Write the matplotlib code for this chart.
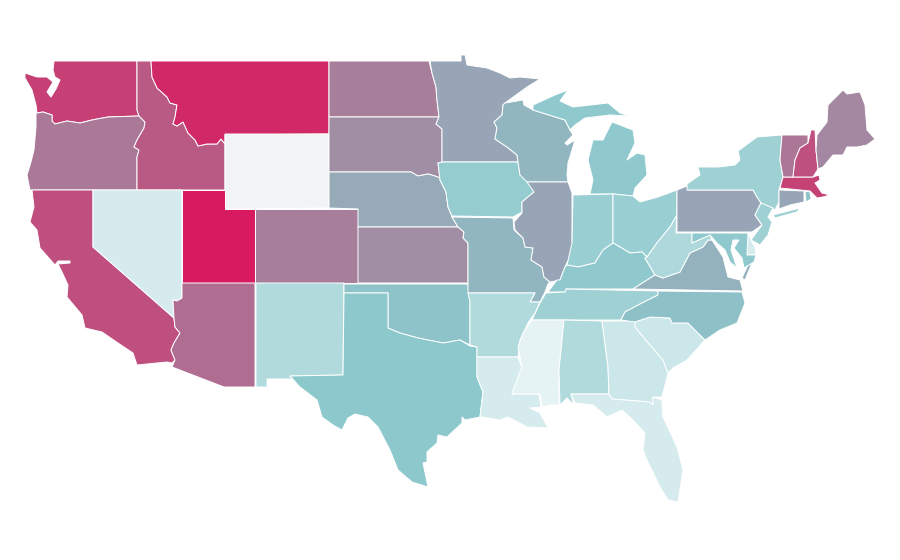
import numpy as np
import matplotlib
matplotlib.use("Agg")
import matplotlib.pyplot as plt
from matplotlib.collections import PolyCollection
from matplotlib.colors import LinearSegmentedColormap, Normalize

# Estimated value of each state on the colour scale (nan = no data)
states = ["WA","OR","CA","ID","NV","MT","WY","UT","AZ","CO","NM","ND","SD","NE","KS","OK","TX",
          "MN","IA","MO","AR","LA","WI","IL","MI","IN","OH","KY","TN","MS","AL","GA","FL","SC",
          "NC","VA","WV","PA","NY","NJ","DE","MD","CT","RI","MA","VT","NH","ME"]
values = [87,67,82,78,6,95,np.nan,100,71,65,18,65,59,48,59,33,30,
          50,27,41,18,6,41,50,29,26,26,29,24,1,18,9,6,9,
          34,43,19,50,24,24,6,29,50,33,86,68,81,62]

# State outlines in image units
outlines = {
"WA":[[(54,61),(137,61),(137,110),(139,116),(108,117),(92,120),(80,123),(67,121),(55,124),(52,121),(52,115),(43,112),(37,113),(36,105),(32,90),(25,78),(25,73),(37,77),(47,77),(53,82),(47,92),(51,97),(56,89),(60,80),(55,77),(53,70)]],
"OR":[[(36,113),(37,113),(43,112),(52,115),(52,121),(55,124),(67,121),(80,123),(92,120),(108,117),(139,116),(145,122),(144,128),(137,140),(134,147),(139,150),(137,157),(137,190),(30,190),(27,175),(31,162),(34,150),(36,127)]],
"CA":[[(32,190),(93,190),(93,247),(174,318),(175,327),(180,333),(174,343),(171,350),(175,360),(172,363),(167,362),(137,365),(133,353),(118,343),(102,332),(85,328),(82,315),(67,297),(68,285),(62,272),(58,264),(70,263),(70,261),(58,261),(55,265),(40,248),(37,230),(30,222),(34,207)]],
"ID":[[(137,61),(151,61),(152,77),(157,88),(167,97),(170,103),(177,105),(175,117),(173,124),(177,126),(183,122),(188,133),(195,140),(198,146),(207,144),(217,144),(221,139),(225,144),(225,190),(137,190),(137,157),(139,150),(134,147),(137,140),(144,128),(145,122),(139,116),(137,110)]],
"NV":[[(93,190),(182,190),(182,298),(177,301),(173,300),(174,318),(93,247)]],
"MT":[[(151,61),(329,61),(329,134),(225,135),(225,144),(221,139),(217,144),(207,144),(198,146),(195,140),(188,133),(183,122),(177,126),(173,124),(175,117),(177,105),(170,103),(167,97),(157,88),(152,77)]],
"WY":[[(225,134),(329,134),(329,208),(225,209)]],
"UT":[[(182,190),(225,190),(225,209),(255,209),(255,283),(182,283)]],
"AZ":[[(182,283),(255,283),(255,387),(224,387),(172,367),(175,360),(171,350),(174,343),(180,333),(175,327),(174,318),(173,300),(177,301),(182,298)]],
"CO":[[(255,209),(358,209),(358,283),(255,283)]],
"NM":[[(256,283),(344,283),(343,375),(290,376),(293,379),(267,379),(267,387),(256,387)]],
"ND":[[(329,61),(429,61),(432,73),(436,87),(437,100),(439,117),(329,117)]],
"SD":[[(329,117),(439,117),(436,124),(442,129),(442,162),(438,163),(440,178),(435,176),(428,174),(418,176),(411,172),(329,172)]],
"NE":[[(329,172),(411,172),(418,176),(428,174),(435,176),(440,178),(440,180),(446,192),(448,207),(452,217),(458,227),(358,227),(358,209),(329,208)]],
"KS":[[(358,227),(458,227),(464,232),(463,238),(468,243),(468,283),(358,283)]],
"OK":[[(344,284),(468,284),(470,302),(470,345),(460,340),(443,343),(418,338),(400,333),(388,328),(388,293),(344,293)]],
"TX":[[(344,293),(388,293),(388,328),(400,333),(418,338),(443,343),(460,340),(470,346),(477,347),(477,377),(483,392),(480,417),(465,420),(462,417),(462,423),(447,437),(438,435),(437,443),(427,452),(427,462),(423,463),(428,487),(412,482),(398,470),(390,450),(378,427),(368,417),(355,414),(348,418),(342,430),(333,425),(322,417),(317,400),(300,387),(290,376),(343,375)]],
"MN":[[(430,61),(461,61),(461,55),(465,55),(467,65),(487,68),(500,73),(510,78),(520,77),(540,79),(527,87),(505,103),(503,105),(502,115),(494,122),(497,128),(495,139),(507,147),(517,155),(518,162),(442,162),(442,129),(436,124),(439,117),(437,100),(436,87),(432,73)]],
"IA":[[(442,162),(518,162),(520,175),(527,178),(534,192),(522,202),(522,212),(513,217),(452,216),(448,207),(446,192),(440,180),(438,163)]],
"MO":[[(452,217),(513,218),(514,230),(523,238),(525,247),(533,248),(531,260),(542,267),(544,277),(550,282),(548,284),(545,292),(540,302),(530,302),(535,293),(468,293),(468,243),(463,238),(464,232),(458,227)]],
"AR":[[(468,293),(535,293),(530,302),(540,302),(535,313),(528,323),(520,340),(518,357),(477,357),(477,347),(470,345),(470,302)]],
"LA":[[(477,357),(518,357),(522,368),(512,394),(539,394),(541,407),(530,408),(540,413),(548,428),(527,427),(508,417),(500,420),(482,417),(480,417),(483,392),(477,377)]],
"WI":[[(505,103),(523,100),(524,105),(533,110),(565,120),(570,130),(573,135),(565,143),(567,145),(575,140),(572,150),(568,163),(567,175),(568,182),(527,182),(520,175),(518,162),(517,155),(507,147),(495,139),(497,128),(494,122),(502,115),(503,105)]],
"IL":[[(527,182),(568,182),(572,193),(572,240),(573,250),(565,267),(560,280),(550,282),(544,277),(542,267),(531,260),(533,248),(525,247),(523,238),(515,230),(514,222),(522,213),(522,202),(534,192)]],
"MI":[[(590,194),(613,194),(633,196),(635,188),(647,175),(645,155),(637,153),(627,160),(635,143),(633,130),(612,122),(603,140),(593,140),(588,160),(593,180)],
      [(533,105),(555,95),(568,90),(560,101),(573,107),(608,103),(620,113),(630,116),(610,115),(585,118),(575,125),(570,130),(565,120),(533,110)]],
"IN":[[(573,195),(613,194),(613,243),(603,250),(595,263),(578,267),(567,265),(572,243)]],
"OH":[[(613,194),(633,196),(640,202),(658,197),(677,190),(677,215),(670,227),(657,243),(647,257),(642,252),(630,253),(615,244),(613,243)]],
"KY":[[(567,265),(578,267),(595,263),(603,250),(613,243),(615,244),(630,253),(642,252),(647,257),(645,258),(655,275),(633,289),(566,289),(565,292),(548,292),(557,280),(560,280),(565,267)]],
"TN":[[(532,320),(540,303),(546,293),(565,292),(566,289),(658,291),(658,295),(642,303),(625,312),(621,320)]],
"MS":[[(532,320),(564,320),(559,370),(559,405),(550,405),(542,407),(540,394),(512,394),(518,377),(522,367),(518,347),(523,333)]],
"AL":[[(564,320),(602,321),(608,367),(609,394),(571,394),(574,405),(567,398),(560,405),(559,370)]],
"GA":[[(602,321),(635,321),(635,327),(650,345),(663,360),(668,373),(662,397),(653,397),(653,405),(650,402),(612,399),(609,394),(608,367)]],
"FL":[[(571,394),(609,394),(612,399),(650,402),(653,405),(653,397),(662,400),(663,417),(677,447),(683,470),(678,502),(668,500),(660,487),(647,460),(643,450),(645,433),(633,420),(622,410),(607,417),(593,405),(575,403)]],
"SC":[[(635,322),(650,317),(670,318),(672,323),(688,323),(705,340),(687,360),(673,368),(668,373),(663,360),(650,345),(635,327)]],
"NC":[[(658,291),(742,292),(745,303),(737,323),(720,330),(705,340),(688,323),(672,323),(670,318),(650,317),(635,322),(621,320),(625,312),(642,303),(658,295)]],
"VA":[[(633,289),(743,291),(740,280),(728,277),(723,257),(712,240),(708,240),(703,247),(690,253),(680,272),(663,278),(655,275)],
      [(748,265),(752,263),(745,280),(742,278)]],
"WV":[[(677,215),(676,233),(692,233),(692,243),(710,235),(712,240),(708,240),(703,247),(690,253),(680,272),(663,278),(655,275),(645,258),(647,257),(657,243),(670,227)]],
"PA":[[(677,190),(687,186),(688,190),(753,190),(757,197),(761,203),(755,215),(762,225),(752,232),(677,232)]],
"NY":[[(687,190),(687,184),(700,175),(698,167),(718,167),(735,165),(740,160),(738,151),(757,137),(782,135),(780,160),(783,177),(779,190),(779,202),(775,210),(772,208),(761,203),(757,197),(753,190)],
      [(773,215),(800,208),(797,212),(775,218)]],
"NJ":[[(761,203),(773,208),(768,217),(772,222),(768,235),(760,245),(751,240),(762,225),(755,215)]],
"DE":[[(748,232),(747,255),(756,255),(755,247),(751,240)]],
"MD":[[(692,233),(748,233),(747,255),(756,255),(754,262),(744,268),(742,258),(734,248),(739,240),(733,240),(731,250),(737,268),(730,262),(725,250),(717,243),(710,235),(692,243)]],
"CT":[[(779,190),(804,191),(804,202),(790,205),(779,209)]],
"RI":[[(805,191),(810,192),(811,199),(806,202)]],
"MA":[[(780,188),(783,177),(813,177),(819,175),(820,180),(815,183),(822,193),(830,195),(823,197),(817,198),(812,193),(810,191)]],
"VT":[[(782,135),(808,135),(808,143),(800,148),(795,160),(793,177),(783,177),(780,160)]],
"NH":[[(811,130),(815,130),(816,150),(818,169),(813,177),(793,177),(795,160),(800,148),(808,143)]],
"ME":[[(817,135),(827,122),(828,105),(843,90),(847,94),(860,92),(865,105),(867,130),(875,139),(867,145),(857,147),(847,147),(843,155),(833,155),(823,167),(818,169),(816,150)]],
}

scale_stops = [(0.0,"#e8f4f5"),(0.30,"#8cc8cc"),(0.50,"#97a6b6"),(0.65,"#a77f9b"),(1.0,"#d81b60")]
cmap = LinearSegmentedColormap.from_list("scale", scale_stops)
cmap.set_bad("#f2f3f5")

fig = plt.figure(figsize=(9, 5.6), dpi=100, facecolor="white")
ax = fig.add_axes([0, 0, 1, 1])
ax.set_xlim(0, 900)
ax.set_ylim(560, 0)
ax.axis("off")

verts, vals = [], []
for st, v in zip(states, values):
    for part in outlines[st]:
        verts.append(part)
        vals.append(v)

coll = PolyCollection(verts, array=np.ma.masked_invalid(vals), cmap=cmap, norm=Normalize(0, 100),
                      edgecolors="white", linewidths=0.7)
ax.add_collection(coll)
fig.savefig("out.png", dpi=100)
